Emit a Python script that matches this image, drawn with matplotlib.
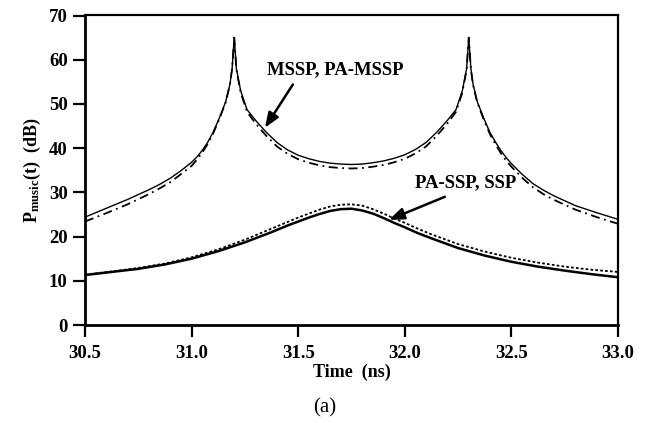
import matplotlib
matplotlib.use("Agg")
import matplotlib.pyplot as plt

# ---- data ----
t_upper = [30.50, 30.60, 30.70, 30.80, 30.85, 30.90, 30.95, 31.00, 31.025, 31.05,
           31.075, 31.10, 31.13, 31.16, 31.18, 31.19, 31.20, 31.21, 31.23, 31.26,
           31.30, 31.35, 31.40, 31.45, 31.50, 31.55, 31.60, 31.65, 31.70, 31.75,
           31.80, 31.85, 31.90, 31.95, 32.00, 32.05, 32.10, 32.15, 32.20, 32.24,
           32.27, 32.29, 32.30, 32.31, 32.32, 32.34, 32.37, 32.40, 32.425, 32.45,
           32.475, 32.50, 32.55, 32.60, 32.65, 32.70, 32.80, 32.90, 33.00]
mssp = [24.4, 26.4, 28.4, 30.6, 31.8, 33.2, 34.9, 36.8, 38.0, 39.5,
        41.3, 43.5, 46.8, 50.5, 54.5, 58.0, 65.0, 58.0, 53.0, 48.7,
        46.3, 43.6, 41.3, 39.6, 38.4, 37.6, 37.0, 36.6, 36.4, 36.3,
        36.4, 36.7, 37.1, 37.7, 38.5, 39.7, 41.3, 43.6, 46.3, 48.7,
        53.0, 58.0, 65.0, 58.0, 54.5, 50.5, 46.8, 43.5, 41.4, 39.5,
        37.9, 36.5, 34.1, 32.0, 30.5, 29.2, 27.0, 25.4, 23.9]
pa_mssp = [23.4, 25.3, 27.3, 29.6, 30.9, 32.3, 34.1, 36.0, 37.4, 39.0,
           40.9, 43.2, 46.6, 50.4, 54.4, 58.0, 65.0, 57.8, 52.6, 48.2,
           45.6, 42.8, 40.4, 38.7, 37.5, 36.7, 36.1, 35.7, 35.5, 35.4,
           35.5, 35.8, 36.2, 36.8, 37.6, 38.8, 40.4, 42.8, 45.6, 48.2,
           52.6, 57.8, 65.0, 57.8, 54.3, 50.3, 46.5, 43.1, 40.9, 38.9,
           37.2, 35.8, 33.3, 31.2, 29.6, 28.3, 26.1, 24.4, 22.9]

t_lower = [30.500, 30.625, 30.750, 30.875, 31.000, 31.125, 31.250, 31.375,
           31.450, 31.500, 31.550, 31.600, 31.650, 31.700, 31.750, 31.800,
           31.850, 31.900, 31.950, 32.000, 32.060, 32.125, 32.250, 32.375,
           32.500, 32.625, 32.750, 32.875, 33.000]
ssp = [11.3, 12.0, 12.7, 13.7, 15.0, 16.7, 18.7, 21.0,
       22.5, 23.4, 24.3, 25.1, 25.8, 26.2, 26.3, 25.9,
       25.2, 24.2, 23.1, 22.1, 20.8, 19.6, 17.4, 15.7,
       14.3, 13.2, 12.3, 11.5, 10.8]
pa_ssp = [11.4, 12.1, 12.9, 13.9, 15.3, 17.1, 19.3, 21.8,
          23.3, 24.3, 25.2, 26.1, 26.8, 27.2, 27.3, 27.0,
          26.2, 25.2, 24.1, 23.1, 21.8, 20.5, 18.3, 16.6,
          15.2, 14.1, 13.2, 12.5, 12.0]

xticks = [30.5, 31.0, 31.5, 32.0, 32.5, 33.0]
xticklabels = ["30.5", "31.0", "31.5", "32.0", "32.5", "33.0"]
yticks = [0, 10, 20, 30, 40, 50, 60, 70]

# ---- styling ----
plt.rcParams['font.family'] = ['Liberation Serif', 'DejaVu Serif']
plt.rcParams['mathtext.fontset'] = 'custom'
plt.rcParams['mathtext.rm'] = 'Liberation Serif:bold'
plt.rcParams['mathtext.bf'] = 'Liberation Serif:bold'
plt.rcParams['mathtext.it'] = 'Liberation Serif:bold'

fig = plt.figure(figsize=(6.53, 4.23), dpi=100)
ax = fig.add_axes([85/653, 1-325/423, (618-85)/653, (325-15.5)/423])

ax.plot(t_upper, mssp, color='black', lw=1.0, ls='-')
ax.plot(t_upper, pa_mssp, color='black', lw=1.3, ls=(0, (5, 2.5, 1, 2.5)))
ax.plot(t_lower, ssp, color='black', lw=1.8, ls='-')
ax.plot(t_lower, pa_ssp, color='black', lw=1.3, ls=(0, (1.5, 1.2)))

ax.set_xlim(30.5, 33.0)
ax.set_ylim(0, 70)
ax.set_xticks(xticks)
ax.set_xticklabels(xticklabels)
ax.set_yticks(yticks)

for lab in ax.get_xticklabels() + ax.get_yticklabels():
    lab.set_fontweight('bold')
    lab.set_fontsize(13.5)

ax.tick_params(axis='both', direction='out', width=1.6, length=8.5, pad=4)
ax.tick_params(axis='x', pad=6)
ax.tick_params(top=False, right=False)
for side in ['left', 'bottom']:
    ax.spines[side].set_linewidth(2.0)
for side in ['top', 'right']:
    ax.spines[side].set_linewidth(1.6)

ax.set_xlabel('Time  (ns)', fontsize=13, fontweight='bold', labelpad=1)
ax.set_ylabel(r'$\mathrm{P}_{\mathrm{music}}$(t)  (dB)', fontsize=13, fontweight='bold', labelpad=4)

# annotations
ax.text(31.354, 57.8, 'MSSP, PA-MSSP', fontsize=13.5, fontweight='bold',
        ha='left', va='center')
ax.annotate('', xy=(31.344, 44.6), xytext=(31.475, 54.4),
            arrowprops=dict(arrowstyle='-|>,head_length=0.9,head_width=0.35',
                            color='black', lw=1.8, shrinkA=0, shrinkB=0))
ax.text(32.048, 32.2, 'PA-SSP, SSP', fontsize=13.5, fontweight='bold',
        ha='left', va='center')
ax.annotate('', xy=(31.926, 23.8), xytext=(32.188, 29.0),
            arrowprops=dict(arrowstyle='-|>,head_length=0.9,head_width=0.35',
                            color='black', lw=1.8, shrinkA=0, shrinkB=0))

fig.text(324.5/653, 1-408/423, '(a)', fontsize=15, ha='center', va='center',
         family=['Liberation Serif'])

fig.savefig('out.png', dpi=100)
